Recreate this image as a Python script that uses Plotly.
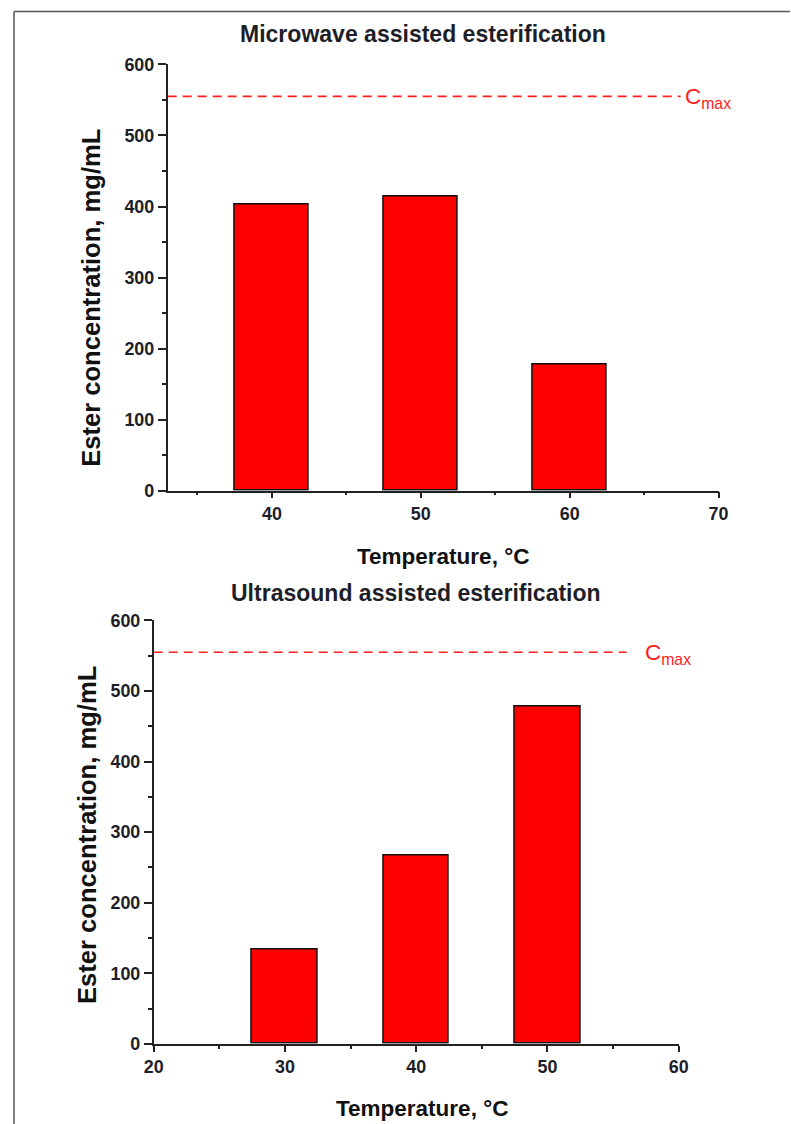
import plotly.graph_objects as go

# ---- data ----
mw_temps = [40, 50, 60]
mw_conc = [403, 414, 178]
us_temps = [30, 40, 50]
us_conc = [134, 267, 478]
c_max = 555

mw_title = "Microwave assisted esterification"
us_title = "Ultrasound assisted esterification"
x_title = "Temperature, °C"
y_title = "Ester concentration, mg/mL"
cmax_label = "C<sub>max</sub>"

# ---- page geometry (figure is drawn at an offset and slightly scaled in the snapshot) ----
W, H = 800, 1134
OX, OY = 8.0, 8.5
SX, SY = 0.977, 0.984
FONT = "Liberation Sans, Arial, sans-serif"
INK = "#1e1e28"


def px(x):
    return ((x - OX) / SX) / W


def py(y):
    return 1 - ((y - OY) / SY) / H


def fs(size):
    return size / SX


fig = go.Figure()

bar_style = dict(width=5, marker=dict(color="#ff0000", line=dict(color="#111111", width=1.5)),
                 showlegend=False)
fig.add_trace(go.Bar(x=mw_temps, y=mw_conc, xaxis="x", yaxis="y", **bar_style))
fig.add_trace(go.Bar(x=us_temps, y=us_conc, xaxis="x2", yaxis="y2", **bar_style))

# dashed Cmax reference lines
mw_xrange = [33, 70]
us_xrange = [20, 60]
mw_line_end = 67.45
us_line_end = 56.05
dash_style = dict(mode="lines", line=dict(color="#ff2020", width=1.6, dash="9px,6px"),
                  showlegend=False, hoverinfo="skip")
fig.add_trace(go.Scatter(x=[mw_xrange[0], mw_line_end], y=[c_max, c_max], xaxis="x", yaxis="y", **dash_style))
fig.add_trace(go.Scatter(x=[us_xrange[0], us_line_end], y=[c_max, c_max], xaxis="x2", yaxis="y2", **dash_style))

tickfont = dict(family=FONT, size=fs(17.5), color=INK, weight="bold")


def xaxis(domain, rng, anchor):
    return dict(domain=domain, range=rng, anchor=anchor, showline=True, linecolor="#222222",
                linewidth=1.6, ticks="outside", ticklen=6, tickwidth=1.6, tickcolor="#222222",
                tick0=0, dtick=10, showgrid=False, zeroline=False, tickfont=tickfont,
                minor=dict(dtick=5, ticklen=3, tickwidth=1.5, tickcolor="#222222", ticks="outside",
                           showgrid=False),
                fixedrange=True)


def yaxis(domain, anchor):
    return dict(domain=domain, range=[0, 600], anchor=anchor, showline=True, linecolor="#222222",
                linewidth=1.6, ticks="outside", ticklen=8, tickwidth=1.6, tickcolor="#222222",
                tick0=0, dtick=100, showgrid=False, zeroline=False, tickfont=tickfont,
                minor=dict(dtick=50, ticklen=4, tickwidth=1.5, tickcolor="#222222", ticks="outside",
                           showgrid=False),
                fixedrange=True)


title_font = dict(family=FONT, size=fs(22.5), color=INK, weight="bold")
xt_font = dict(family=FONT, size=fs(22), color="#111111", weight="bold")
yt_font = dict(family=FONT, size=fs(25), color="#111111", weight="bold")
cmax_font = dict(family=FONT, size=fs(22), color="#ff2020")

annotations = [
    dict(text=mw_title, x=px(422), y=py(33), xref="paper", yref="paper", showarrow=False,
         xanchor="center", yanchor="middle", font=title_font),
    dict(text=us_title, x=px(415), y=py(592), xref="paper", yref="paper", showarrow=False,
         xanchor="center", yanchor="middle", font=title_font),
    dict(text=x_title, x=px(442), y=py(556), xref="paper", yref="paper", showarrow=False,
         xanchor="center", yanchor="middle", font=xt_font),
    dict(text=x_title, x=px(421), y=py(1109), xref="paper", yref="paper", showarrow=False,
         xanchor="center", yanchor="middle", font=xt_font),
    dict(text=y_title, x=px(89), y=py(297), xref="paper", yref="paper", showarrow=False, textangle=-90,
         xanchor="center", yanchor="middle", font=yt_font),
    dict(text=y_title, x=px(85), y=py(835), xref="paper", yref="paper", showarrow=False, textangle=-90,
         xanchor="center", yanchor="middle", font=yt_font),
    dict(text=cmax_label, x=67.6, y=c_max, xref="x", yref="y", showarrow=False,
         xanchor="left", yanchor="middle", yshift=-2, font=cmax_font),
    dict(text=cmax_label, x=57.3, y=c_max, xref="x2", yref="y2", showarrow=False,
         xanchor="left", yanchor="middle", yshift=-2, font=cmax_font),
]

shapes = [
    dict(type="line", xref="paper", yref="paper", x0=px(12), x1=px(12), y0=py(10), y1=0,
         line=dict(color="#555555", width=1.5)),
    dict(type="line", xref="paper", yref="paper", x0=px(12), x1=1, y0=py(10), y1=py(10),
         line=dict(color="#555555", width=1.5)),
]

fig.update_layout(
    width=W, height=H,
    margin=dict(l=0, r=0, t=0, b=0),
    paper_bgcolor="white", plot_bgcolor="white",
    xaxis=xaxis([px(166), px(718)], mw_xrange, "y"),
    yaxis=yaxis([py(490), py(63)], "x"),
    xaxis2=xaxis([px(152), px(678)], us_xrange, "y2"),
    yaxis2=yaxis([py(1044), py(620)], "x2"),
    annotations=annotations,
    shapes=shapes,
    bargap=0,
)

fig.write_html("out.html")
